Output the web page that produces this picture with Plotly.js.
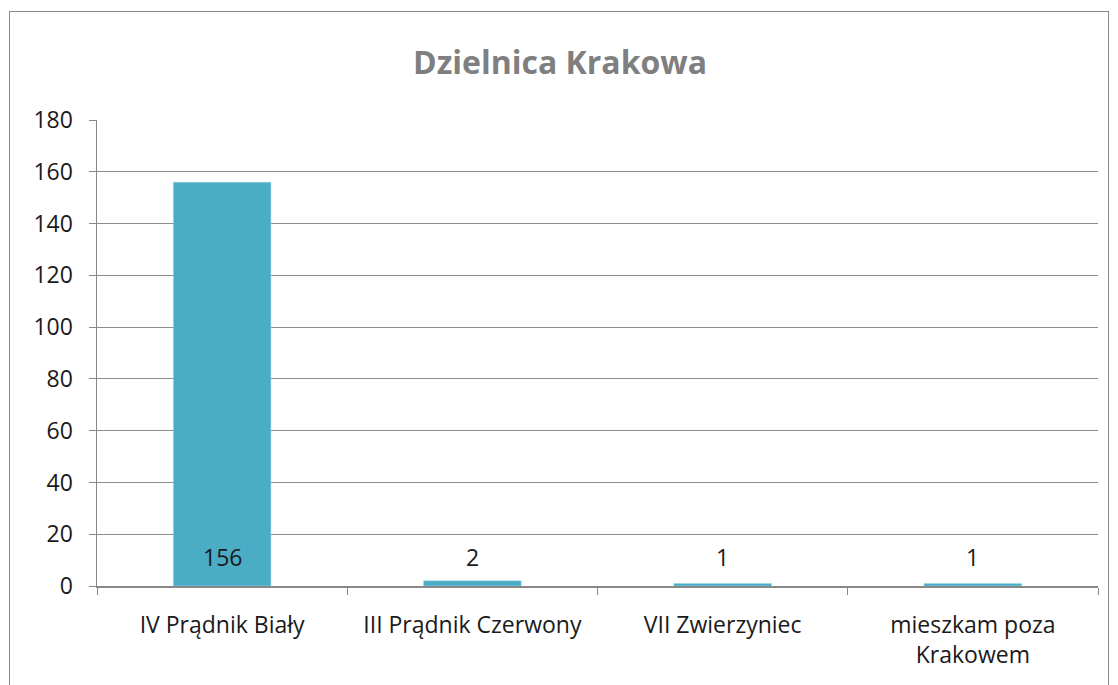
<!DOCTYPE html>
<html><head><meta charset="utf-8">
<script src="https://cdn.plot.ly/plotly-3.0.1.min.js"></script>
<style>
html,body{margin:0;padding:0;background:#fff;overflow:hidden;}
#frame{position:absolute;left:9px;top:11px;width:1100px;height:700px;border:1.5px solid #8a8a8a;box-sizing:border-box;}
#chart{width:1100px;height:700px;}
</style></head>
<body>
<div id="frame"><div id="chart"></div></div>
<script>
const categories = ["IV Prądnik Biały", "III Prądnik Czerwony", "VII Zwierzyniec", "mieszkam poza<br>Krakowem"];
const values = [156, 2, 1, 1];
const valueLabels = ["156", "2", "1", "1"];
const chartTitle = "Dzielnica Krakowa";
const yTicks = [0, 20, 40, 60, 80, 100, 120, 140, 160, 180];

const FONT = "'Open Sans', sans-serif";

const trace = {
  type: 'bar',
  x: categories,
  y: values,
  marker: {color: '#4BACC6', line: {color: '#9fd6e4', width: 0.5}},
  width: 0.39,
  hoverinfo: 'x+y'
};

const annotations = categories.map((c, i) => ({
  x: c, y: 0, xref: 'x', yref: 'y',
  text: valueLabels[i], showarrow: false,
  yanchor: 'bottom', yshift: 11,
  font: {family: FONT, size: 23, color: '#1a1a1a'}
}));

const layout = {
  width: 1100, height: 700,
  margin: {l: 87, r: 12, t: 108, b: 126},
  paper_bgcolor: 'rgba(0,0,0,0)', plot_bgcolor: '#fff',
  title: {text: '<b>' + chartTitle + '</b>', x: 0.5, xanchor: 'center', y: 0.927, yanchor: 'middle',
          font: {family: FONT, size: 32, color: '#7f7f7f'}},
  showlegend: false,
  bargap: 0.61,
  xaxis: {
    type: 'category', tickson: 'boundaries', ticks: 'outside', ticklen: 7, tickcolor: '#888',
    showline: true, linecolor: '#888', linewidth: 1.5, showgrid: false, zeroline: false,
    tickfont: {family: FONT, size: 23, color: '#1a1a1a'}, ticklabelstandoff: 18, fixedrange: true
  },
  yaxis: {
    range: [0, 180], tickvals: yTicks, ticktext: yTicks.map(String),
    ticks: 'outside', ticklen: 7, tickcolor: '#888',
    showline: true, linecolor: '#888', linewidth: 1.5,
    showgrid: true, gridcolor: '#8c8c8c', gridwidth: 1, zeroline: false,
    tickfont: {family: FONT, size: 23, color: '#1a1a1a'}, ticklabelstandoff: 11, fixedrange: true
  },
  annotations: annotations
};

Plotly.newPlot('chart', [trace], layout, {displayModeBar: false, staticPlot: true});
</script>
</body></html>
